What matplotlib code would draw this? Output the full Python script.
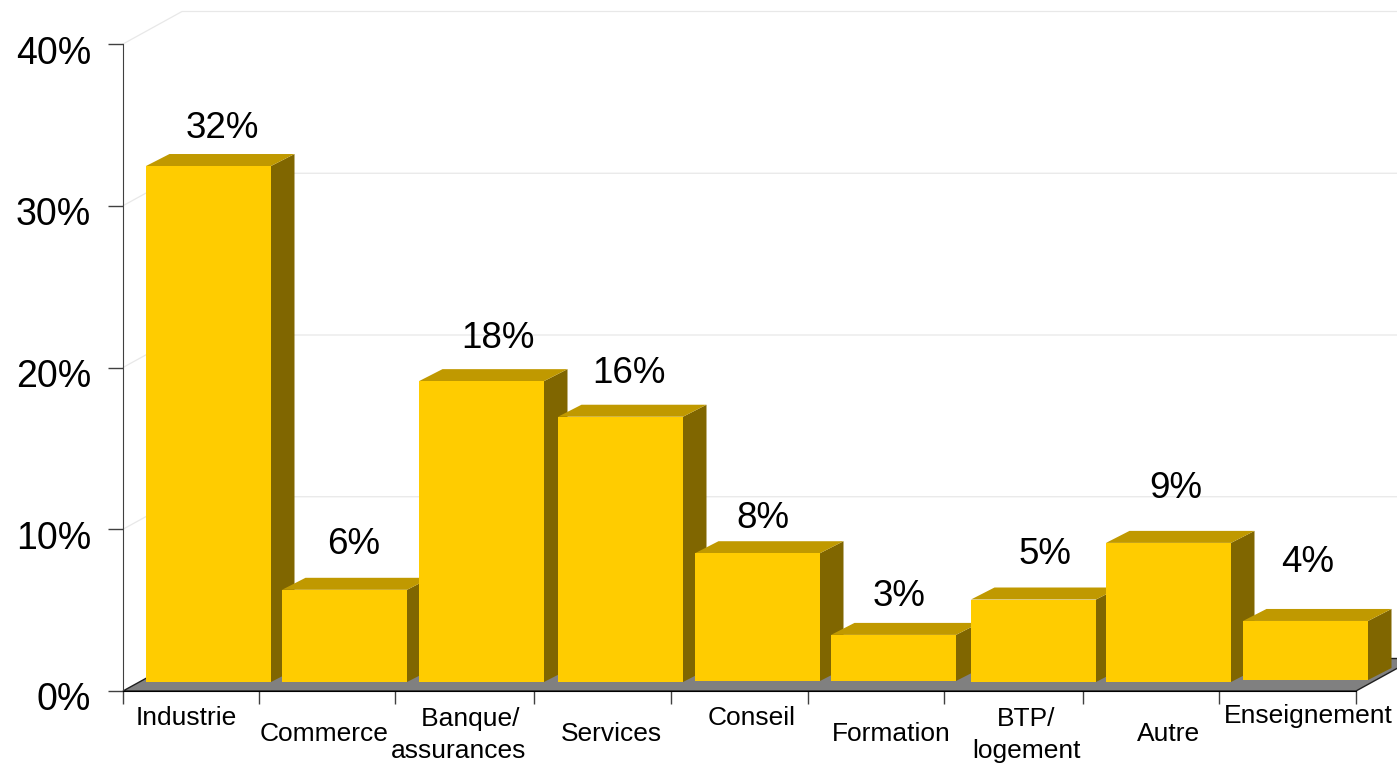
import matplotlib
matplotlib.use('Agg')
import matplotlib.pyplot as plt
from matplotlib.patches import Polygon
from matplotlib.transforms import ScaledTranslation

plt.rcParams['font.family'] = ['Liberation Sans', 'DejaVu Sans']

# data
categories = ['Industrie', 'Commerce', '   Banque/\nassurances', 'Services', 'Conseil',
              'Formation', 'BTP/\nlogement', 'Autre', 'Enseignement']
values = [31.9, 5.7, 18.6, 16.4, 7.9, 2.85, 5.1, 8.6, 3.65]
value_labels = ['32%', '6%', '18%', '16%', '8%', '3%', '5%', '9%', '4%']
y_ticks = [0, 10, 20, 30, 40]

# layout, in pixels of the 1397x764 picture
W, H = 1397, 764
AX_L, AX_R, AX_B, AX_T = 123, 1356, 691, 44
tick_px = [123, 259, 395, 534, 671, 808, 944, 1083, 1219, 1356]
bar_left_px = [146, 282, 419, 558, 695, 831, 971, 1106, 1243]
bar_base_px = [682, 682, 682, 682, 681, 681, 682, 682, 680]
bar_w_px = 125
cat_xy_px = [(186, 718), (324, 734), (459, 735), (611, 734), (752, 718),
             (891, 734), (1026, 735), (1169, 734), (1308, 716)]
val_xy_px = [(222, 128), (354, 544), (498, 339), (629, 374), (763, 518),
             (899, 597), (1045, 554), (1176, 488), (1308, 563)]

FRONT, TOP, SIDE = '#FFCC00', '#C09900', '#806600'
FLOOR, GRID = '#808080', '#E8E8E8'


def px_x(p):
    return (p - AX_L) / (AX_R - AX_L) * 9


def px_y(p):
    return (AX_B - p) / (AX_B - AX_T) * 40


fig = plt.figure(figsize=(W / 100, H / 100), dpi=100)
ax = fig.add_axes([AX_L / W, 1 - AX_B / H, (AX_R - AX_L) / W, (AX_B - AX_T) / H])
ax.set_xlim(0, 9)
ax.set_ylim(0, 40)
ax.patch.set_visible(False)

# depth of the walls and of the bars, in axis units
wall_dx, wall_dy = px_x(AX_L + 59), 32.5 / (AX_B - AX_T) * 40
bar_dx, bar_dy = px_x(AX_L + 23.5), 12 / (AX_B - AX_T) * 40

# back wall lines
for v in y_ticks[1:]:
    ax.plot([0, wall_dx, 9.5], [v, v + wall_dy, v + wall_dy], color=GRID, lw=0.9,
            clip_on=False, zorder=1)

# floor
ax.add_patch(Polygon([(0, 0), (9, 0), (9 + wall_dx, wall_dy), (wall_dx, wall_dy)],
                     facecolor=FLOOR, edgecolor='#202020', lw=1, clip_on=False, zorder=2))

# bars, left to right so that each one covers the side of the one before
for i, v in enumerate(values):
    x0 = px_x(bar_left_px[i])
    w = bar_w_px / (AX_R - AX_L) * 9
    base = px_y(bar_base_px[i])
    top = base + v
    z = 3 + i
    ax.add_patch(Polygon([(x0 + w, base), (x0 + w + bar_dx, base + bar_dy),
                          (x0 + w + bar_dx, top + bar_dy), (x0 + w, top)],
                         facecolor=SIDE, edgecolor='none', clip_on=False, zorder=z))
    ax.add_patch(Polygon([(x0, top), (x0 + bar_dx, top + bar_dy),
                          (x0 + w + bar_dx, top + bar_dy), (x0 + w, top)],
                         facecolor=TOP, edgecolor='none', clip_on=False, zorder=z))
    ax.bar(x0, v, width=w, bottom=base, align='edge', color=FRONT, zorder=z, clip_on=False)
    ax.text(px_x(val_xy_px[i][0]), px_y(val_xy_px[i][1]), value_labels[i], fontsize=26.5,
            ha='center', va='center', clip_on=False, zorder=20)
    ax.text(px_x(cat_xy_px[i][0]), px_y(cat_xy_px[i][1]), categories[i], fontsize=19,
            ha='center', va='center', linespacing=1.42, clip_on=False, zorder=20)

# axes
for s in ['top', 'right']:
    ax.spines[s].set_visible(False)
ax.spines['left'].set_color('#404040')
ax.spines['left'].set_zorder(15)
ax.spines['bottom'].set_color('black')
ax.spines['bottom'].set_zorder(15)
ax.set_xticks([px_x(p) for p in tick_px])
ax.set_xticklabels([])
ax.set_yticks(y_ticks)
ax.set_yticklabels(['%d%%' % v for v in y_ticks])
ax.tick_params(axis='x', length=9.5, width=1, color='#404040')
ax.tick_params(axis='y', length=11, width=1, color='#404040', pad=12, labelsize=27)
shift = ScaledTranslation(0, -5.5 / 100, fig.dpi_scale_trans)
for lab in ax.get_yticklabels():
    lab.set_transform(lab.get_transform() + shift)

fig.savefig('out.png', dpi=100)
